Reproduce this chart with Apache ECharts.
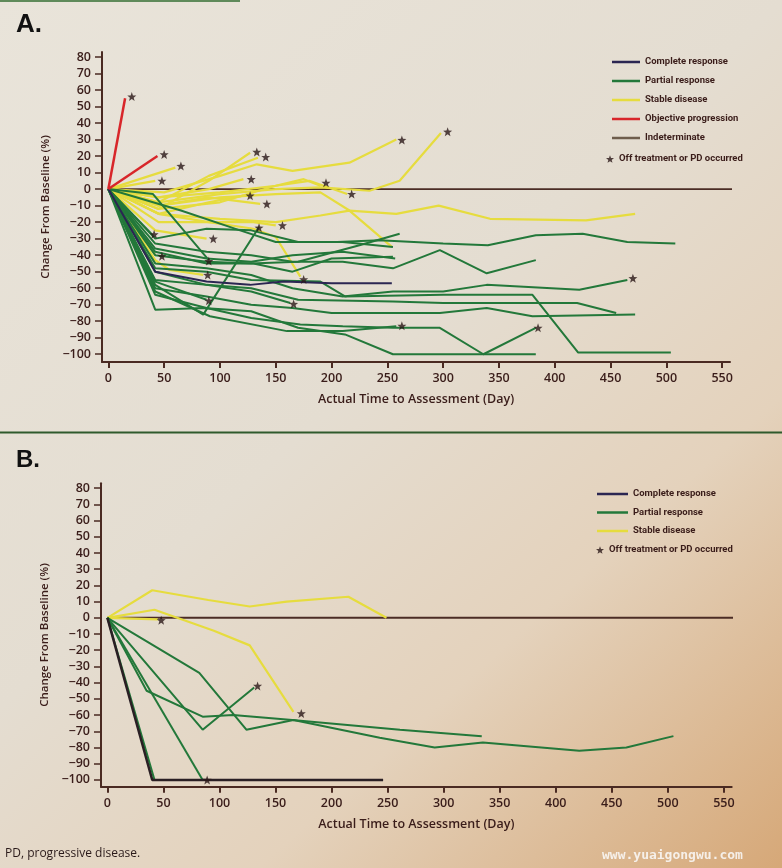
<!DOCTYPE html>
<html><head><meta charset="utf-8">
<script src="https://cdn.jsdelivr.net/npm/echarts@6/dist/echarts.min.js"></script>
<style>html,body{margin:0;padding:0;background:#e6dfd3}#c{width:782px;height:868px}</style>
</head><body><div id="c"></div>
<script>
// ---------- tick values ----------
const xTicks = [0,50,100,150,200,250,300,350,400,450,500,550];
const yTicks = [-100,-90,-80,-70,-60,-50,-40,-30,-20,-10,0,10,20,30,40,50,60,70,80];
const baseLine = [[0,0],[560,0]];

// ---------- Panel A ----------
const aComplete = [
  [[0,0],[42,-50],[88,-56],[127,-58],[157,-56],[200,-57],[254,-57]]
];
const aPartial = [
  [[0,0],[40,-28]],
  [[0,0],[65,-13],[118,-25],[150,-32],[205,-32],[243,-31],[300,-33],[340,-34],[383,-28],[425,-27],[465,-32],[508,-33]],
  [[0,0],[42,-33],[88,-38],[128,-40],[165,-44],[210,-44],[255,-48],[297,-37],[339,-51],[383,-43]],
  [[0,0],[42,-36],[88,-42],[128,-44],[165,-40],[210,-38],[257,-42]],
  [[0,0],[42,-38],[88,-45],[128,-45],[170,-44],[225,-34],[261,-27]],
  [[0,0],[40,-3],[90,-43]],
  [[0,0],[42,-45],[88,-48],[128,-52],[165,-60],[210,-65],[255,-62],[300,-62],[339,-58],[422,-61],[465,-55]],
  [[0,0],[42,-48],[88,-50],[128,-55],[190,-56],[212,-65],[300,-64],[380,-64],[421,-99],[504,-99]],
  [[0,0],[42,-55],[88,-58],[128,-60],[170,-67],[255,-68],[300,-69],[380,-69],[420,-69],[455,-75]],
  [[0,0],[42,-58],[85,-76],[135,-23]],
  [[0,0],[42,-60],[88,-65],[128,-70],[165,-72],[200,-75],[243,-75],[297,-75],[339,-72],[380,-77],[472,-76]],
  [[0,0],[42,-62],[91,-77],[160,-86],[210,-86],[258,-83]],
  [[0,0],[42,-64],[88,-72],[128,-78],[172,-82],[210,-83],[255,-84],[297,-84],[336,-100],[383,-84]],
  [[0,0],[42,-73],[85,-72],[128,-74],[170,-84],[212,-88],[255,-100],[383,-100]],
  [[0,0],[42,-50],[88,-58],[128,-62],[163,-69]],
  [[0,0],[42,-56],[88,-67]],
  [[0,0],[42,-40],[88,-44],[130,-45],[165,-50],[200,-42],[255,-41]],
  [[0,0],[42,-30],[88,-24],[128,-25],[170,-32],[210,-32],[255,-35]]
];
const aStable = [
  [[0,0],[42,5]],
  [[0,0],[60,13]],
  [[0,0],[45,-12],[90,5],[127,22]],
  [[0,0],[45,-8],[90,8],[134,19]],
  [[0,0],[45,-5],[90,0],[121,6]],
  [[0,0],[45,-15],[90,-8],[121,-4]],
  [[0,0],[45,-10],[90,-5],[136,-9]],
  [[0,0],[45,-20],[90,-20],[130,-20],[150,-22]],
  [[0,0],[42,-25],[88,-30]],
  [[0,0],[42,-40]],
  [[0,0],[42,-43],[55,-49],[85,-52]],
  [[0,0],[45,-15],[90,-20],[130,-24],[150,-29],[172,-53]],
  [[0,0],[45,-12],[100,-8],[150,2],[175,6],[190,2]],
  [[0,0],[45,-5],[100,-2],[150,2],[180,5],[214,-3]],
  [[0,0],[50,-2],[100,8],[133,15],[165,11],[216,16],[258,30]],
  [[0,0],[45,-8],[100,-3],[150,0],[190,1],[234,-1],[261,5],[298,34]],
  [[0,0],[45,-15],[100,-18],[150,-20],[190,-16],[216,-13],[258,-15],[296,-10],[342,-18],[428,-19],[472,-15]],
  [[0,0],[45,-10],[100,-5],[150,-3],[190,-2],[216,-13],[254,-35]]
];
const aProgression = [
  [[0,0],[15,55]],
  [[0,0],[44,20]]
];
const aStars = [[21,56],[50,21],[65,14],[48,5],[133,22.5],[141,19.4],[128,6],[127,-4],[142,-9],[135,-23.4],[156,-22],[94,-30],[48,-40.6],[41,-27.4],[90,-43.6],[89,-52],[90,-67.6],[166,-69.6],[175,-54.7],[195,3.8],[218,-3],[263,29.7],[304,34.7],[263,-82.8],[385,-84],[470,-54]];

// ---------- Panel B ----------
const bComplete = [
  [[0,0],[40,-100],[88,-100],[246,-100]]
];
const bPartial = [
  [[0,0],[35,-45],[85,-61],[112,-60],[165,-63],[261,-69],[334,-73]],
  [[0,0],[82,-34],[124,-69],[166,-63],[243,-74],[292,-80],[335,-77],[421,-82],[463,-80],[505,-73]],
  [[0,0],[85,-69],[131,-43]],
  [[0,0],[85,-100]],
  [[0,0],[42,-100],[85,-100]]
];
const bStable = [
  [[0,0],[40,17],[90,11],[127,7],[160,10],[215,13],[249,0]],
  [[0,0],[42,5],[95,-8],[127,-17],[166,-58]],
  [[0,0],[45,-1]]
];
const bStars = [[48,-1.5],[134,-42],[173,-59],[89,-100]];

// ---------- styling ----------
const C = {
  complete: '#2b2652', completeB: '#2a1f24', partial: '#23783a', stable: '#e6dc3e',
  progression: '#d8262a', indet: '#6e5d4c', axis: '#4a2a22', text: '#3a1d1a', star: '#2a1818', base: '#4b2c25'
};
const STAR = 'path://M12,1 L14.8,8.8 L23,9 L16.6,14 L18.9,22 L12,17.4 L5.1,22 L7.4,14 L1,9 L9.2,8.8 Z';
const FONT = 'Open Sans';

function lineSeries(list, name, color, gi, width, z) {
  return list.map(d => ({
    type: 'line', name: name, xAxisIndex: gi, yAxisIndex: gi, data: d,
    symbol: 'none', lineStyle: { color: color, width: width }, itemStyle: { color: color },
    z: z, silent: true, animation: false
  }));
}
function xAxis(gi) {
  return {
    type: 'value', gridIndex: gi, min: -5.7, max: 557,
    axisLine: { onZero: false, lineStyle: { color: C.axis, width: 2 } },
    axisTick: { customValues: xTicks, length: 6, lineStyle: { color: C.axis, width: 2 } },
    axisLabel: { customValues: xTicks, margin: 10, color: C.text, fontSize: 12.5, fontWeight: 600, fontFamily: FONT },
    splitLine: { show: false },
    name: 'Actual Time to Assessment (Day)', nameLocation: 'middle', nameGap: 31,
    nameTextStyle: { color: C.text, fontSize: 12.5, fontWeight: 600, fontFamily: FONT }
  };
}
function yAxis(gi, min) {
  return {
    type: 'value', gridIndex: gi, min: min, max: 83,
    axisLine: { show: true, onZero: false, lineStyle: { color: C.axis, width: 2 } },
    axisTick: { show: true, customValues: yTicks, length: 7, lineStyle: { color: C.axis, width: 1.5 } },
    axisLabel: { customValues: yTicks, margin: 11, color: C.text, fontSize: 12.5, fontWeight: 600, fontFamily: FONT,
      formatter: v => (v < 0 ? '\u2212' + (-v) : '' + v) },
    splitLine: { show: false },
    name: 'Change From Baseline (%)', nameLocation: 'middle', nameGap: 45,
    nameTextStyle: { color: C.text, fontSize: 11.5, fontWeight: 600, fontFamily: FONT }
  };
}
function starSeries(data, gi) {
  return { type: 'scatter', name: 'Off treatment or PD occurred', xAxisIndex: gi, yAxisIndex: gi, data: data,
    symbol: STAR, symbolSize: 9, itemStyle: { color: C.star }, z: 10, silent: true, animation: false };
}
const legendText = { color: C.text, fontSize: 9.5, fontWeight: 'bold', fontFamily: 'Roboto', lineHeight: 12 };

const series = [].concat(
  [{ type: 'line', name: 'base', xAxisIndex: 0, yAxisIndex: 0, data: baseLine, symbol: 'none', clip: false,
     lineStyle: { color: C.base, width: 1.6 }, z: 1, silent: true, animation: false }],
  [{ type: 'line', name: 'Indeterminate', xAxisIndex: 0, yAxisIndex: 0, data: [], symbol: 'none',
     lineStyle: { color: C.indet, width: 2 }, itemStyle: { color: C.indet } }],
  lineSeries(aStable, 'Stable disease', C.stable, 0, 2.2, 2),
  lineSeries(aPartial, 'Partial response', C.partial, 0, 2, 3),
  lineSeries(aComplete, 'Complete response', C.complete, 0, 2, 4),
  lineSeries(aProgression, 'Objective progression', C.progression, 0, 2.5, 4),
  [starSeries(aStars, 0)],
  [{ type: 'line', name: 'baseB', xAxisIndex: 1, yAxisIndex: 1, data: baseLine, symbol: 'none', clip: false,
     lineStyle: { color: C.base, width: 2 }, z: 1, silent: true, animation: false }],
  lineSeries(bStable, 'Stable disease', C.stable, 1, 2.2, 2),
  lineSeries(bPartial, 'Partial response', C.partial, 1, 2, 3),
  lineSeries(bComplete, 'Complete response', C.completeB, 1, 2.5, 4),
  [starSeries(bStars, 1)]
);

const chart = echarts.init(document.getElementById('c'), null, { renderer: 'canvas' });
chart.setOption({
  animation: false,
  backgroundColor: 'transparent',
  graphic: [
    { type: 'rect', z: -10, silent: true, shape: { x: 0, y: 0, width: 782, height: 868 },
      style: { fill: { type: 'linear', x: 0, y: 0, x2: 1, y2: 1, colorStops: [
        { offset: 0, color: '#e9e4da' }, { offset: 0.45, color: '#e4ddd1' }, { offset: 0.7, color: '#e4d2bc' }, { offset: 1, color: '#d6a878' } ] } } },
    { type: 'rect', silent: true, shape: { x: 0, y: 431.5, width: 782, height: 2 }, style: { fill: '#2f5a2c' } },
    { type: 'rect', silent: true, shape: { x: 0, y: 0, width: 240, height: 2 }, style: { fill: '#5f8a5a' } },
    { type: 'text', left: 16, top: 12, style: { text: 'A.', fontSize: 26, fontWeight: 'bold', fontFamily: 'Liberation Sans', fill: '#111' } },
    { type: 'text', left: 16, top: 448, style: { text: 'B.', fontSize: 24, fontWeight: 'bold', fontFamily: 'Liberation Sans', fill: '#111' } },
    { type: 'text', left: 5, top: 848, style: { text: 'PD, progressive disease.', fontSize: 12, fontFamily: 'Open Sans', fill: '#2a1a1a' } },
    { type: 'text', left: 602, top: 849, style: { text: 'www.yuaigongwu.com', fontSize: 13, fontWeight: 'bold', fontFamily: 'DejaVu Sans Mono', fill: 'rgba(250,250,250,0.85)' } }
  ],
  grid: [
    { left: 102, top: 52, width: 628, height: 310 },
    { left: 101, top: 483.3, width: 630.7, height: 303.4 }
  ],
  xAxis: [xAxis(0), xAxis(1)],
  yAxis: [yAxis(0, -104.7), yAxis(1, -104.2)],
  legend: [
    { orient: 'vertical', left: 612, top: 56, padding: 0, itemGap: 7, itemWidth: 28, itemHeight: 2.5, icon: 'rect',
      selectedMode: false, textStyle: legendText,
      data: ['Complete response', 'Partial response', 'Stable disease', 'Objective progression', 'Indeterminate'] },
    { orient: 'vertical', left: 606, top: 153, padding: 0, itemWidth: 8, itemHeight: 8, icon: STAR,
      selectedMode: false, textStyle: legendText, data: ['Off treatment or PD occurred'] },
    { orient: 'vertical', left: 597, top: 488, padding: 0, itemGap: 6.5, itemWidth: 31, itemHeight: 2.5, icon: 'rect',
      selectedMode: false, textStyle: legendText, data: ['Complete response', 'Partial response', 'Stable disease'] },
    { orient: 'vertical', left: 596, top: 544, padding: 0, itemWidth: 8, itemHeight: 8, icon: STAR,
      selectedMode: false, textStyle: legendText, data: ['Off treatment or PD occurred'] }
  ],
  series: series
});
</script></body></html>
